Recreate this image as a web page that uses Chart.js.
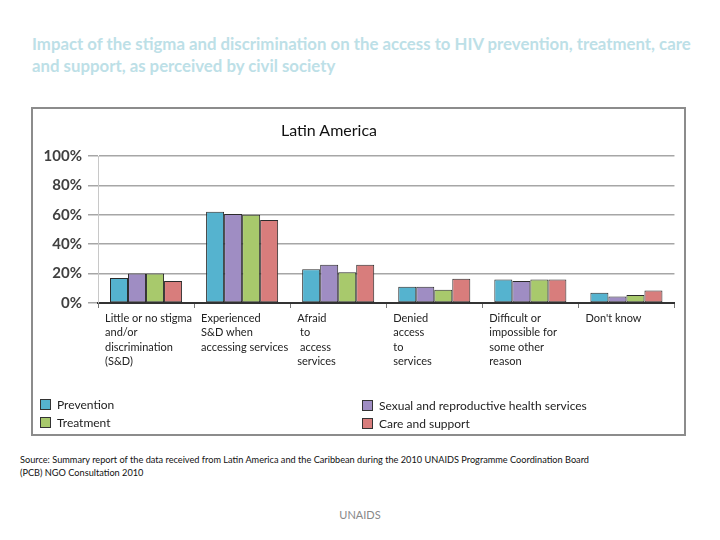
<!DOCTYPE html>
<html>
<head>
<meta charset="utf-8">
<script src="https://cdn.jsdelivr.net/npm/chart.js@4/dist/chart.umd.min.js"></script>
<style>
  html, body { margin: 0; padding: 0; background: #fff; }
  body { width: 720px; height: 540px; position: relative; overflow: hidden; font-family: Lato, "Open Sans", sans-serif; }
  #title { position: absolute; left: 32px; top: 33px; width: 668px; font-weight: bold; font-size: 16.8px; line-height: 22px; color: #bde0e7; }
  #frame { position: absolute; left: 31px; top: 107px; width: 655px; height: 329px; box-sizing: border-box; border: 2px solid #8c8c8c; }
  #chartwrap { position: absolute; left: -2px; top: -2px; width: 655px; height: 329px; }
  #sub { position: absolute; left: 0; top: 11px; width: 592px; text-align: center; font-size: 16px; color: #111; }
  .leg { position: absolute; font-size: 12px; color: #222; white-space: nowrap; }
  .leg span.box { display: inline-block; width: 9px; height: 9px; border: 1px solid #333; vertical-align: -1px; margin-right: 6px; }
  #source { position: absolute; left: 20px; top: 453px; font-size: 9.2px; line-height: 13px; color: #111; }
  #foot { position: absolute; left: 0; width: 720px; top: 508px; text-align: center; font-size: 11px; color: #888; }
</style>
</head>
<body>
<div id="title">Impact of the stigma and discrimination on the access to HIV prevention, treatment, care and support, as perceived by civil society</div>
<div id="frame">
  <div id="chartwrap"><canvas id="c" width="655" height="329"></canvas></div>
  <div id="sub">Latin America</div>
</div>
<div class="leg" id="leg0" style="left:40px;top:397px;"></div>
<div class="leg" id="leg2" style="left:40px;top:415px;"></div>
<div class="leg" id="leg1" style="left:362px;top:398px;"></div>
<div class="leg" id="leg3" style="left:362px;top:416px;"></div>
<div id="source">Source: Summary report of the data received from Latin America and the Caribbean during the 2010 UNAIDS Programme Coordination Board<br>(PCB) NGO Consultation 2010</div>
<div id="foot">UNAIDS</div>
<script>
const categories = [
  ["Little or no stigma", "and/or", "discrimination", "(S&D)"],
  ["Experienced", "S&D when", "accessing services"],
  ["Afraid", " to", " access", "services"],
  ["Denied", "access", "to", "services"],
  ["Difficult or", "impossible for", "some other", "reason"],
  ["Don't know"]
];
const seriesNames = ["Prevention", "Sexual and reproductive health services", "Treatment", "Care and support"];
const prevention = [17, 62, 23, 11, 16, 7];
const sexualReproductive = [20, 60.5, 26, 11, 15, 4.5];
const treatment = [20, 60, 21, 9, 16, 5.5];
const careSupport = [15, 56.5, 26, 16.5, 16, 8.5];
const yTicks = [0, 20, 40, 60, 80, 100];

const colors = ["#55b3cf", "#9f8dc3", "#a8c96c", "#d87d7c"];
const values = [prevention, sexualReproductive, treatment, careSupport];

const datasets = seriesNames.map((n, i) => ({
  label: n,
  data: values[i],
  backgroundColor: colors[i],
  borderColor: "#2b2b2b",
  borderWidth: 1,
  borderSkipped: false,
  categoryPercentage: 0.75,
  barPercentage: 1.0
}));

[0,1,2,3].forEach(i => {
  const el = document.getElementById("leg" + i);
  el.innerHTML = '<span class="box" style="background:' + colors[i] + '"></span>' + seriesNames[i];
});

new Chart(document.getElementById("c"), {
  type: "bar",
  data: { labels: categories, datasets },
  options: {
    responsive: false,
    animation: false,
    devicePixelRatio: 1,
    layout: { padding: { top: 49, left: 0, right: 6, bottom: 0 } },
    plugins: { legend: { display: false }, title: { display: false }, tooltip: { enabled: false } },
    scales: {
      x: {
        grid: { display: true, drawOnChartArea: false, drawTicks: true, tickLength: 5, color: "#777", offset: true },
        border: { display: true, color: "#333", width: 2 },
        ticks: {
          autoSkip: false,
          maxRotation: 0,
          minRotation: 0,
          align: "start",
          padding: 3,
          color: "#222",
          font: { family: "Lato", size: 11, lineHeight: 1.32 },
          labelOffset: -41
        },
        afterFit: (s) => { s.height = 133; }
      },
      y: {
        min: 0, max: 100,
        afterBuildTicks: (s) => { s.ticks = yTicks.map(v => ({ value: v })); },
        grid: { color: "#a6a6a6", lineWidth: 1.5, tickLength: 10 },
        border: { display: true, color: "#c8c8c8", width: 1 },
        ticks: {
          padding: 6,
          color: "#404040",
          font: { family: "Lato", size: 15, weight: "bold" },
          callback: (v) => v + "%"
        },
        afterFit: (s) => { s.width = 67; }
      }
    }
  }
});
</script>
</body>
</html>
